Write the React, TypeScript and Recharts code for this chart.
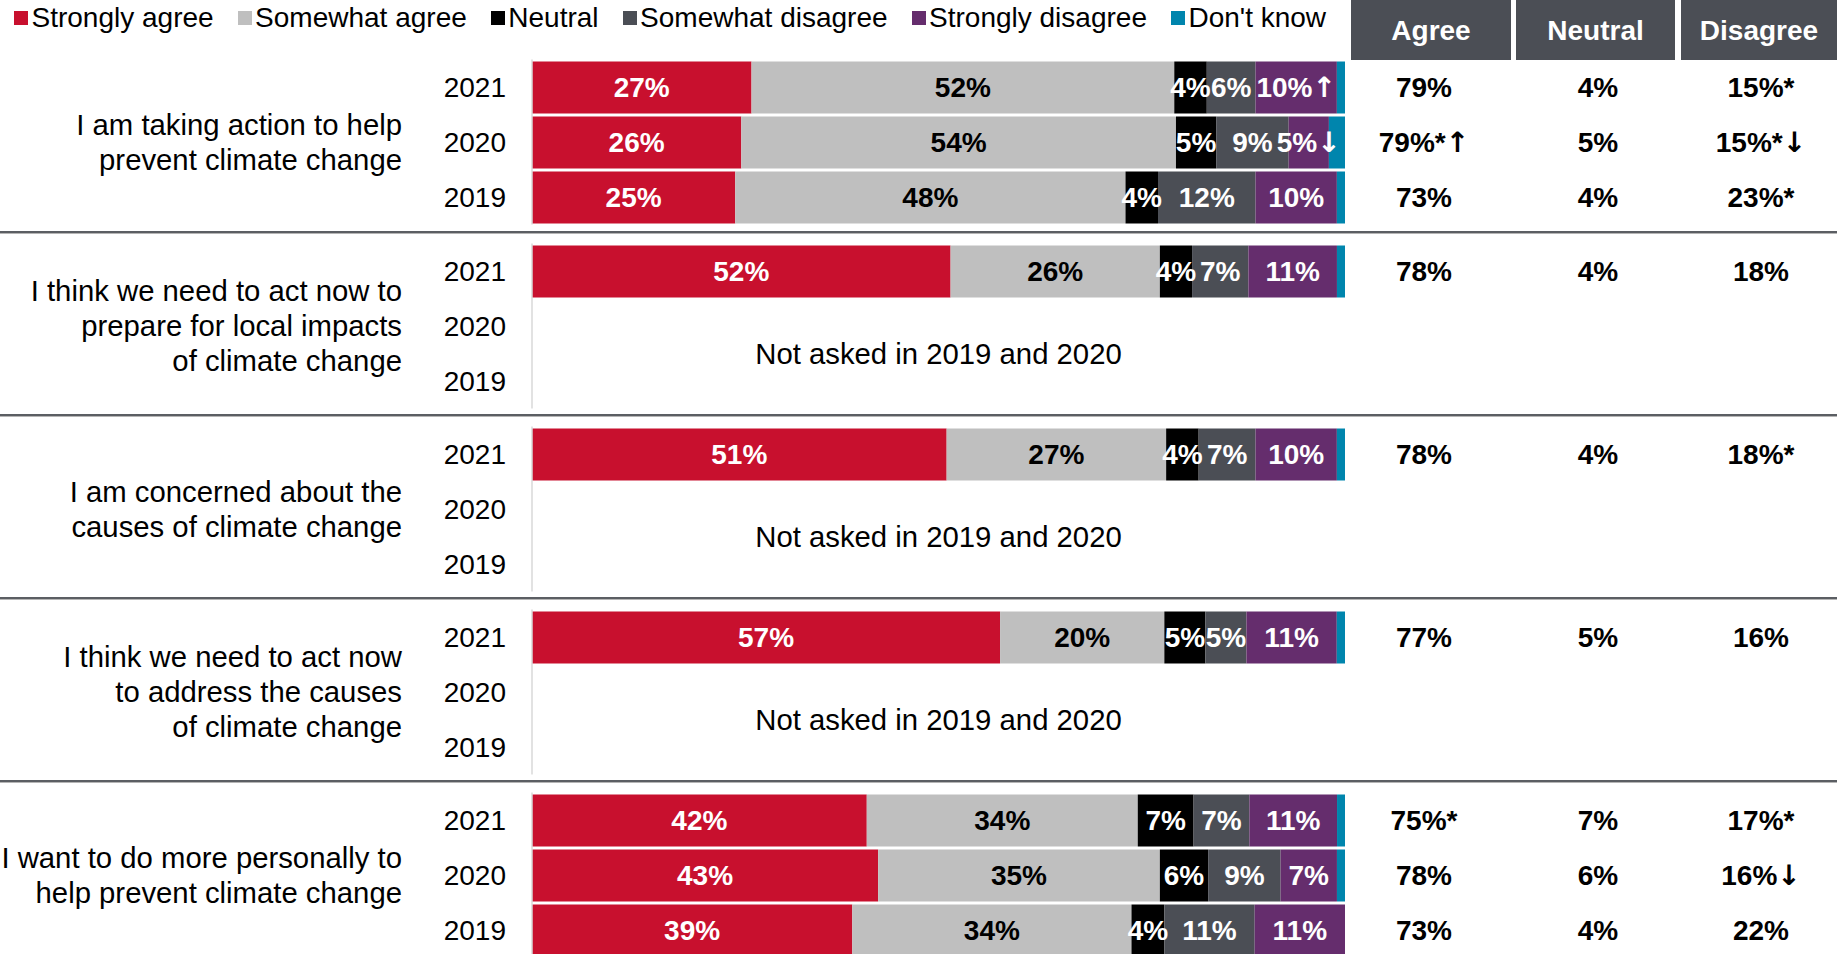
import React from "react"
import { Bar, BarChart, LabelList, Legend, ReferenceArea, XAxis, YAxis } from "recharts"

const YEARS = ["2021", "2020", "2019"]

const QUESTIONS = [
  ["I am taking action to help", "prevent climate change"],
  ["I think we need to act now to", "prepare for local impacts", "of climate change"],
  ["I am concerned about the", "causes of climate change"],
  ["I think we need to act now", "to address the causes", "of climate change"],
  ["I want to do more personally to", "help prevent climate change"],
]

// one inner array per question, in YEARS order (null = not asked)
const STRONGLY_AGREE = [[27, 26, 25], [52, null, null], [51, null, null], [57, null, null], [42, 43, 39]]
const SOMEWHAT_AGREE = [[52, 54, 48], [26, null, null], [27, null, null], [20, null, null], [34, 35, 34]]
const NEUTRAL = [[4, 5, 4], [4, null, null], [4, null, null], [5, null, null], [7, 6, 4]]
const SOMEWHAT_DISAGREE = [[6, 9, 12], [7, null, null], [7, null, null], [5, null, null], [7, 9, 11]]
const STRONGLY_DISAGREE = [[10, 5, 10], [11, null, null], [10, null, null], [11, null, null], [11, 7, 11]]
const DONT_KNOW = [[1, 2, 1], [1, null, null], [1, null, null], [1, null, null], [1, 1, 0]]
const STRONGLY_DISAGREE_MARKS = [["↑", "↓", ""], ["", "", ""], ["", "", ""], ["", "", ""], ["", "", ""]]

const AGREE = [[79, 79, 73], [78, null, null], [78, null, null], [77, null, null], [75, 78, 73]]
const AGREE_MARKS = [["", "*↑", ""], ["", "", ""], ["", "", ""], ["", "", ""], ["*", "", ""]]
const NEUTRAL_TOTAL = [[4, 5, 4], [4, null, null], [4, null, null], [5, null, null], [7, 6, 4]]
const NEUTRAL_MARKS = [["", "", ""], ["", "", ""], ["", "", ""], ["", "", ""], ["", "", ""]]
const DISAGREE = [[15, 15, 23], [18, null, null], [18, null, null], [16, null, null], [17, 16, 22]]
const DISAGREE_MARKS = [["*", "*↓", "*"], ["", "", ""], ["*", "", ""], ["", "", ""], ["*", "↓", ""]]

const COLUMN_HEADERS = ["Agree", "Neutral", "Disagree"]
const NOT_ASKED = "Not asked in 2019 and 2020"

const SERIES = [
  { key: "sa", name: "Strongly agree", values: STRONGLY_AGREE, color: "#c8102e", text: "#fff" },
  { key: "swa", name: "Somewhat agree", values: SOMEWHAT_AGREE, color: "#bfbfbf", text: "#000" },
  { key: "n", name: "Neutral", values: NEUTRAL, color: "#000000", text: "#fff" },
  { key: "swd", name: "Somewhat disagree", values: SOMEWHAT_DISAGREE, color: "#4b4e55", text: "#fff" },
  { key: "sd", name: "Strongly disagree", values: STRONGLY_DISAGREE, color: "#652d6d", text: "#fff", marks: STRONGLY_DISAGREE_MARKS },
  { key: "dk", name: "Don't know", values: DONT_KNOW, color: "#0085ad", text: null },
]

const SUMMARY_COLUMNS = [
  { values: AGREE, marks: AGREE_MARKS, dx: 79 },
  { values: NEUTRAL_TOTAL, marks: NEUTRAL_MARKS, dx: 253 },
  { values: DISAGREE, marks: DISAGREE_MARKS, dx: 416 },
]

const FONT = "'Liberation Sans', Arial, sans-serif"
const WIDTH = 1837
const BLOCK_H = 183

function rowsFor(q: number) {
  return YEARS.map((year, i) => {
    const row: any = { year }
    SERIES.forEach((s) => {
      const v = s.values[q][i]
      row[s.key] = v
      row[s.key + "Label"] = v == null ? null : `${v}%${s.marks ? s.marks[q][i] : ""}`
    })
    return row
  })
}

// arrows are drawn with DejaVu so they come out heavy like the original
function withArrows(str: string) {
  return str.split(/([↑↓])/).filter(Boolean).map((part, k) =>
    part === "↑" || part === "↓" ? (
      <tspan key={k} fontFamily="'DejaVu Sans'" fontWeight="bold">
        {part}
      </tspan>
    ) : (
      <tspan key={k}>{part}</tspan>
    )
  )
}

function makeSegmentLabel(color: string) {
  return (props: any) => {
    const { x, y, width, height, value } = props
    if (value == null || !width) return null
    return (
      <text x={x + width / 2} y={y + height / 2} dy="0.35em" textAnchor="middle" fill={color} fontSize={28} fontWeight="bold">
        {withArrows(String(value))}
      </text>
    )
  }
}

function makeSummaryTick(q: number) {
  return (props: any) => {
    const { x, y, payload } = props
    const i = YEARS.indexOf(payload.value)
    return (
      <g>
        {SUMMARY_COLUMNS.map((c, k) => {
          const v = c.values[q][i]
          if (v == null) return null
          return (
            <text key={k} x={x + c.dx} y={y} dy="0.35em" textAnchor="middle" fontSize={28} fontWeight="bold" fill="#000">
              {withArrows(`${v}%${c.marks[q][i]}`)}
            </text>
          )
        })}
      </g>
    )
  }
}

function makeQuestionLabel(q: number) {
  return (props: any) => {
    const vb = props.viewBox || {}
    const lines = QUESTIONS[q]
    const cx = vb.x + vb.width - 130
    const cy = vb.y + vb.height / 2
    return (
      <text x={cx} y={cy} textAnchor="end" fontSize={29.3} fill="#000">
        {lines.map((line, k) => (
          <tspan key={k} x={cx} y={cy + (k - (lines.length - 1) / 2) * 35} dy="0.35em">
            {line}
          </tspan>
        ))}
      </text>
    )
  }
}

function LegendContent(props: any) {
  const order = SERIES.map((s) => s.name)
  const items = [...(props.payload || [])].sort((a: any, b: any) => order.indexOf(a.value) - order.indexOf(b.value))
  return (
    <div style={{ display: "flex", alignItems: "center", fontSize: 28, lineHeight: "35px", color: "#000", whiteSpace: "nowrap" }}>
      {items.map((it: any, k: number) => (
        <div key={k} style={{ display: "flex", alignItems: "center", marginRight: 24 }}>
          <span style={{ display: "inline-block", width: 14, height: 14, background: it.color, marginRight: 3.5 }} />
          <span>{it.value}</span>
        </div>
      ))}
    </div>
  )
}

function QuestionChart({ q }: { q: number }) {
  const first = q === 0
  const data = rowsFor(q)
  const notAsked = data[1].sa == null
  return (
    <BarChart
      width={WIDTH}
      height={first ? 232 : BLOCK_H}
      data={data}
      layout="vertical"
      stackOffset="expand"
      barSize={52}
      margin={{ top: first ? 59.5 : 11.5, right: 0, bottom: first ? 7.5 : 6.5, left: 0 }}
    >
      <XAxis type="number" domain={[0, 1]} hide />
      <YAxis
        yAxisId="left"
        type="category"
        dataKey="year"
        width={532}
        interval={0}
        axisLine={{ stroke: "#d9d9d9", strokeWidth: 1.5 }}
        tickLine={false}
        tickSize={0}
        tickMargin={26}
        tick={{ fill: "#000", fontSize: 28 }}
        label={{ content: makeQuestionLabel(q) }}
      />
      <YAxis
        yAxisId="summary"
        orientation="right"
        type="category"
        dataKey="year"
        width={WIDTH - 1345}
        interval={0}
        axisLine={false}
        tickLine={false}
        tickSize={0}
        tickMargin={0}
        tick={makeSummaryTick(q)}
      />
      {SERIES.map((s) => (
        <Bar key={s.key} yAxisId="left" dataKey={s.key} name={s.name} stackId="a" fill={s.color} isAnimationActive={false}>
          {s.text && <LabelList dataKey={s.key + "Label"} content={makeSegmentLabel(s.text)} />}
        </Bar>
      ))}
      {notAsked && (
        <ReferenceArea
          yAxisId="left"
          y1="2020"
          y2="2019"
          fill="none"
          fillOpacity={0}
          stroke="none"
          ifOverflow="visible"
          label={{ value: NOT_ASKED, position: "center", fill: "#000", fontSize: 29.3 }}
        />
      )}
      {first && (
        <Legend
          layout="horizontal"
          verticalAlign="middle"
          align="center"
          wrapperStyle={{ top: 0, left: 14, width: "auto" }}
          content={LegendContent}
        />
      )}
    </BarChart>
  )
}

const HEADER_BOXES = [
  { left: 1351, width: 160 },
  { left: 1516, width: 159 },
  { left: 1681, width: 156 },
]

export default function App() {
  return (
    <div
      style={{
        position: "absolute",
        left: 0,
        top: 0,
        width: WIDTH,
        height: 954,
        overflow: "hidden",
        background: "#fff",
        fontFamily: FONT,
      }}
    >
      {COLUMN_HEADERS.map((h, k) => (
        <div
          key={h}
          style={{
            position: "absolute",
            top: 0,
            left: HEADER_BOXES[k].left,
            width: HEADER_BOXES[k].width,
            height: 60,
            background: "#4b4e55",
            color: "#fff",
            fontWeight: "bold",
            fontSize: 28,
            lineHeight: "62px",
            textAlign: "center",
          }}
        >
          {h}
        </div>
      ))}
      {QUESTIONS.map((_, q) => (
        <div key={q} style={{ position: "absolute", left: 0, top: q === 0 ? 0 : 232 + BLOCK_H * (q - 1) }}>
          {q > 0 && (
            <div
              style={{
                position: "absolute",
                left: 0,
                top: -1,
                width: WIDTH,
                height: 2,
                background: "#5b5e63",
                borderBottom: "1px solid #b5b5b5",
                zIndex: 2,
              }}
            />
          )}
          <QuestionChart q={q} />
        </div>
      ))}
    </div>
  )
}
